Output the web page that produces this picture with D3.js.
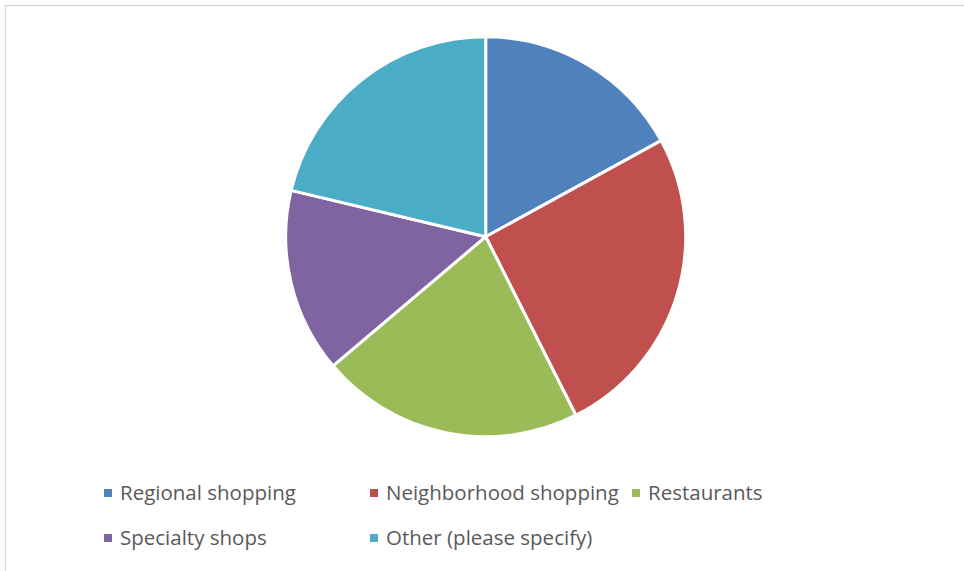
<!DOCTYPE html>
<html>
<head>
<meta charset="utf-8">
<script src="https://cdn.jsdelivr.net/npm/d3@7"></script>
<style>
  html, body { margin: 0; padding: 0; background: #fff; }
  svg { display: block; }
</style>
</head>
<body>
<svg id="chart" width="964" height="571"></svg>
<script>
// Shopping destination responses
const categories = ["Regional shopping", "Neighborhood shopping", "Restaurants", "Specialty shops", "Other (please specify)"];
const responses = [8, 12, 10, 7, 10];
const colors = ["#4F81BD", "#C0504D", "#9BBB59", "#8064A2", "#4BACC6"];

const svg = d3.select("#chart");
const W = 964, H = 571;

// chart area frame
svg.append("rect")
  .attr("x", 5.5).attr("y", 5.5)
  .attr("width", W + 10).attr("height", H + 10)
  .attr("fill", "#fff")
  .attr("stroke", "#d9d9d9")
  .attr("stroke-width", 1.5);

const cx = 485.7, cy = 236.7, radius = 200;

const data = categories.map((c, i) => ({ name: c, value: responses[i], color: colors[i] }));

const pie = d3.pie().value(d => d.value).sort(null);
const arc = d3.arc().innerRadius(0).outerRadius(radius);

svg.append("g")
  .attr("transform", `translate(${cx},${cy})`)
  .selectAll("path")
  .data(pie(data))
  .join("path")
  .attr("d", arc)
  .attr("fill", d => d.data.color)
  .attr("stroke", "#fff")
  .attr("stroke-width", 3)
  .attr("stroke-linejoin", "round");

// legend, laid out in rows of three
const colX = [104, 370, 632];
const rowY = [493, 538];
const legend = svg.append("g").attr("class", "legend");
data.forEach((d, i) => {
  const x = colX[i % 3], y = rowY[Math.floor(i / 3)];
  const g = legend.append("g").attr("transform", `translate(${x},${y})`);
  g.append("rect")
    .attr("x", 0).attr("y", -4)
    .attr("width", 8).attr("height", 8)
    .attr("fill", d.color);
  g.append("text")
    .attr("x", 16).attr("y", 0)
    .attr("dy", "0.35em")
    .attr("font-family", "'Open Sans', 'Liberation Sans', sans-serif")
    .attr("font-size", 20.5)
    .attr("fill", "#595959")
    .text(d.name);
});
</script>
</body>
</html>
